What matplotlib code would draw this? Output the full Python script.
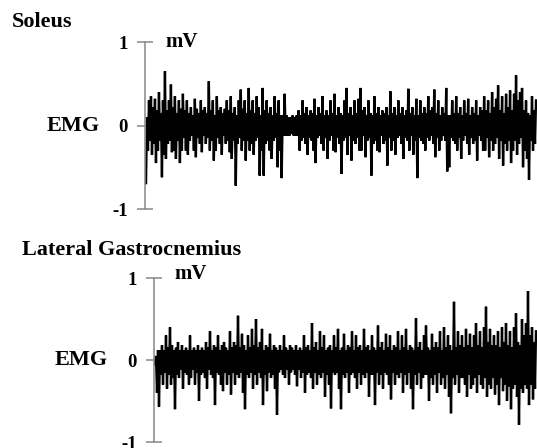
import matplotlib
matplotlib.use("Agg")
import matplotlib.pyplot as plt
import numpy as np

# ---- data (mV) ----
# The trace swings up and down every pixel: the upward excursions and the
# downward excursions (one pair per 2 px of trace) are listed separately.
soleus_up = [
    0.10, 0.30, 0.35, 0.22, 0.32, 0.18, 0.40, 0.15, 0.30, 0.65,
    0.18, 0.30, 0.49, 0.22, 0.35, 0.15, 0.30, 0.20, 0.38, 0.18,
    0.30, 0.15, 0.22, 0.12, 0.32, 0.20, 0.15, 0.30, 0.18, 0.22,
    0.15, 0.53, 0.18, 0.30, 0.12, 0.35, 0.18, 0.22, 0.15, 0.20,
    0.30, 0.18, 0.35, 0.15, 0.22, 0.12, 0.30, 0.43, 0.20, 0.30,
    0.15, 0.45, 0.18, 0.30, 0.15, 0.35, 0.22, 0.12, 0.45, 0.18,
    0.30, 0.15, 0.22, 0.12, 0.35, 0.15, 0.30, 0.12, 0.12, 0.38,
    0.12, 0.10, 0.10, 0.12, 0.10, 0.12, 0.18, 0.12, 0.30, 0.15,
    0.22, 0.12, 0.18, 0.15, 0.32, 0.12, 0.22, 0.15, 0.35, 0.12,
    0.18, 0.12, 0.30, 0.15, 0.38, 0.12, 0.22, 0.15, 0.12, 0.30,
    0.45, 0.15, 0.22, 0.12, 0.30, 0.15, 0.32, 0.45, 0.18, 0.22,
    0.12, 0.30, 0.15, 0.12, 0.35, 0.15, 0.22, 0.12, 0.18, 0.15,
    0.22, 0.12, 0.41, 0.15, 0.22, 0.12, 0.30, 0.15, 0.22, 0.12,
    0.18, 0.44, 0.15, 0.22, 0.12, 0.32, 0.12, 0.30, 0.15, 0.22,
    0.15, 0.35, 0.18, 0.22, 0.43, 0.15, 0.30, 0.12, 0.22, 0.15,
    0.45, 0.12, 0.12, 0.30, 0.15, 0.35, 0.15, 0.22, 0.12, 0.30,
    0.15, 0.32, 0.12, 0.22, 0.15, 0.30, 0.12, 0.22, 0.18, 0.35,
    0.18, 0.30, 0.15, 0.40, 0.22, 0.32, 0.48, 0.18, 0.35, 0.15,
    0.38, 0.22, 0.42, 0.18, 0.38, 0.60, 0.30, 0.40, 0.45, 0.18,
    0.30, 0.15, 0.12, 0.35, 0.18, 0.30,
]
soleus_down = [
    -0.69, -0.30, -0.18, -0.35, -0.22, -0.45, -0.30, -0.18, -0.62, -0.35,
    -0.40, -0.22, -0.18, -0.32, -0.30, -0.40, -0.18, -0.45, -0.30, -0.15,
    -0.30, -0.35, -0.18, -0.12, -0.30, -0.38, -0.15, -0.22, -0.32, -0.12,
    -0.22, -0.15, -0.30, -0.18, -0.42, -0.30, -0.15, -0.22, -0.35, -0.12,
    -0.22, -0.18, -0.32, -0.40, -0.18, -0.72, -0.22, -0.15, -0.30, -0.18,
    -0.42, -0.18, -0.30, -0.22, -0.35, -0.18, -0.15, -0.60, -0.30, -0.60,
    -0.22, -0.18, -0.30, -0.40, -0.18, -0.15, -0.50, -0.30, -0.63, -0.12,
    -0.12, -0.12, -0.12, -0.10, -0.12, -0.12, -0.12, -0.30, -0.18, -0.15,
    -0.22, -0.35, -0.15, -0.18, -0.30, -0.45, -0.15, -0.12, -0.22, -0.30,
    -0.15, -0.40, -0.18, -0.12, -0.30, -0.32, -0.15, -0.22, -0.58, -0.18,
    -0.15, -0.35, -0.12, -0.42, -0.18, -0.22, -0.15, -0.30, -0.30, -0.12,
    -0.38, -0.18, -0.15, -0.60, -0.22, -0.18, -0.30, -0.32, -0.12, -0.22,
    -0.18, -0.48, -0.15, -0.30, -0.18, -0.35, -0.15, -0.12, -0.22, -0.40,
    -0.15, -0.18, -0.30, -0.12, -0.35, -0.18, -0.63, -0.15, -0.18, -0.22,
    -0.30, -0.15, -0.18, -0.12, -0.22, -0.38, -0.15, -0.30, -0.18, -0.12,
    -0.18, -0.55, -0.50, -0.15, -0.18, -0.22, -0.30, -0.15, -0.40, -0.18,
    -0.12, -0.22, -0.35, -0.15, -0.22, -0.18, -0.42, -0.12, -0.18, -0.30,
    -0.30, -0.15, -0.38, -0.18, -0.30, -0.22, -0.15, -0.40, -0.18, -0.48,
    -0.22, -0.30, -0.18, -0.45, -0.30, -0.18, -0.35, -0.22, -0.15, -0.50,
    -0.30, -0.40, -0.65, -0.18, -0.30, -0.22,
]

lat_gastroc_up = [
    0.05, 0.12, 0.12, 0.18, 0.12, 0.30, 0.15, 0.40, 0.18, 0.12,
    0.15, 0.22, 0.12, 0.18, 0.12, 0.15, 0.12, 0.30, 0.12, 0.15,
    0.12, 0.18, 0.12, 0.15, 0.12, 0.22, 0.15, 0.35, 0.12, 0.18,
    0.15, 0.30, 0.12, 0.18, 0.22, 0.15, 0.12, 0.35, 0.15, 0.22,
    0.18, 0.54, 0.15, 0.32, 0.18, 0.12, 0.30, 0.15, 0.38, 0.18,
    0.50, 0.15, 0.22, 0.38, 0.12, 0.18, 0.15, 0.32, 0.12, 0.18,
    0.15, 0.12, 0.18, 0.12, 0.30, 0.15, 0.12, 0.18, 0.15, 0.12,
    0.18, 0.12, 0.15, 0.12, 0.30, 0.15, 0.18, 0.12, 0.45, 0.15,
    0.22, 0.12, 0.35, 0.15, 0.30, 0.12, 0.15, 0.18, 0.12, 0.30,
    0.15, 0.38, 0.12, 0.15, 0.32, 0.12, 0.18, 0.15, 0.35, 0.12,
    0.30, 0.15, 0.18, 0.12, 0.38, 0.15, 0.18, 0.12, 0.30, 0.15,
    0.12, 0.42, 0.15, 0.22, 0.12, 0.32, 0.15, 0.30, 0.12, 0.18,
    0.15, 0.35, 0.12, 0.30, 0.15, 0.38, 0.12, 0.18, 0.15, 0.12,
    0.51, 0.15, 0.22, 0.12, 0.30, 0.42, 0.15, 0.12, 0.32, 0.15,
    0.22, 0.15, 0.35, 0.12, 0.40, 0.15, 0.30, 0.18, 0.12, 0.71,
    0.15, 0.35, 0.18, 0.30, 0.15, 0.38, 0.18, 0.32, 0.15, 0.30,
    0.45, 0.18, 0.35, 0.15, 0.40, 0.65, 0.22, 0.38, 0.18, 0.30,
    0.18, 0.35, 0.15, 0.40, 0.22, 0.45, 0.18, 0.35, 0.15, 0.40,
    0.57, 0.22, 0.18, 0.50, 0.30, 0.45, 0.84, 0.30, 0.40, 0.22,
    0.35,
]
lat_gastroc_down = [
    -0.05, -0.40, -0.57, -0.18, -0.30, -0.15, -0.35, -0.18, -0.30, -0.22,
    -0.60, -0.18, -0.22, -0.12, -0.35, -0.15, -0.18, -0.30, -0.22, -0.12,
    -0.30, -0.15, -0.50, -0.18, -0.15, -0.22, -0.35, -0.12, -0.18, -0.22,
    -0.55, -0.15, -0.18, -0.30, -0.38, -0.15, -0.30, -0.18, -0.42, -0.15,
    -0.30, -0.18, -0.22, -0.15, -0.40, -0.60, -0.18, -0.22, -0.15, -0.35,
    -0.18, -0.30, -0.15, -0.22, -0.55, -0.18, -0.38, -0.15, -0.22, -0.18,
    -0.35, -0.67, -0.15, -0.12, -0.18, -0.22, -0.12, -0.30, -0.15, -0.12,
    -0.18, -0.32, -0.12, -0.22, -0.15, -0.40, -0.18, -0.15, -0.22, -0.35,
    -0.15, -0.30, -0.18, -0.22, -0.15, -0.45, -0.18, -0.30, -0.59, -0.15,
    -0.18, -0.15, -0.35, -0.60, -0.18, -0.22, -0.15, -0.40, -0.18, -0.15,
    -0.22, -0.35, -0.15, -0.30, -0.18, -0.22, -0.15, -0.45, -0.18, -0.18,
    -0.55, -0.15, -0.30, -0.18, -0.35, -0.15, -0.18, -0.30, -0.48, -0.15,
    -0.30, -0.18, -0.22, -0.15, -0.40, -0.18, -0.30, -0.15, -0.35, -0.60,
    -0.18, -0.30, -0.15, -0.35, -0.22, -0.18, -0.18, -0.50, -0.22, -0.30,
    -0.18, -0.40, -0.15, -0.30, -0.22, -0.35, -0.18, -0.45, -0.65, -0.22,
    -0.30, -0.18, -0.40, -0.22, -0.22, -0.30, -0.45, -0.18, -0.35, -0.30,
    -0.22, -0.40, -0.18, -0.30, -0.35, -0.22, -0.45, -0.30, -0.35, -0.22,
    -0.42, -0.30, -0.55, -0.22, -0.38, -0.30, -0.50, -0.32, -0.60, -0.35,
    -0.30, -0.45, -0.79, -0.35, -0.40, -0.30, -0.35, -0.55, -0.30, -0.48,
    -0.35,
]

titles = ["Soleus", "Lateral Gastrocnemius"]
yticks = [-1, 0, 1]
ytick_labels = ["-1", "0", "1"]


def interleave(down, up):
    out = np.empty(len(down) + len(up))
    out[0::2] = down
    out[1::2] = up
    return out


SERIF = "Liberation Serif"
W, H = 537, 448
fig = plt.figure(figsize=(W / 100, H / 100), dpi=100)

ax1 = fig.add_axes([145 / W, 1 - 209 / H, 1 - 145 / W, 167 / H])
ax2 = fig.add_axes([154 / W, 1 - 442 / H, 1 - 154 / W, 164 / H])

panels = [
    (ax1, soleus_down, soleus_up, 22, 12, 126, 100, 0),
    (ax2, lat_gastroc_down, lat_gastroc_up, 250, 22, 360, 108, 3),
]

for (ax, down, up, ty, tx, y0, ex, mvdy), title in zip(panels, titles):
    data = interleave(down, up)
    n = len(down)
    t = np.arange(len(data)) / 2.0
    ax.plot(t, data, color="black", lw=1.7, solid_joinstyle="miter")
    ax.set_xlim(-0.5, n)
    ax.set_ylim(-1, 1)
    for s in ["top", "right", "bottom"]:
        ax.spines[s].set_visible(False)
    ax.spines["left"].set_color("#888888")
    ax.spines["left"].set_linewidth(1.1)
    ax.set_xticks([])
    ax.set_yticks(yticks)
    ax.set_yticklabels(ytick_labels, fontfamily=SERIF, fontweight="bold",
                       fontsize=13.5)
    ax.tick_params(axis="y", direction="inout", length=11.5, width=1.1,
                   color="#888888", pad=6.5)
    ax.set_facecolor("none")
    ax.annotate("mV", xy=(0, 1), xycoords=("axes fraction", "data"),
                xytext=(14.5, mvdy), textcoords="offset points",
                ha="left", va="center", fontfamily=SERIF, fontweight="bold",
                fontsize=15)
    fig.text(tx / W, 1 - ty / H, title, ha="left", va="center",
             fontfamily=SERIF, fontweight="bold", fontsize=16)
    fig.text(ex / W, 1 - y0 / H, "EMG", ha="right", va="center",
             fontfamily=SERIF, fontweight="bold", fontsize=16)

fig.savefig("out.png", dpi=100)
